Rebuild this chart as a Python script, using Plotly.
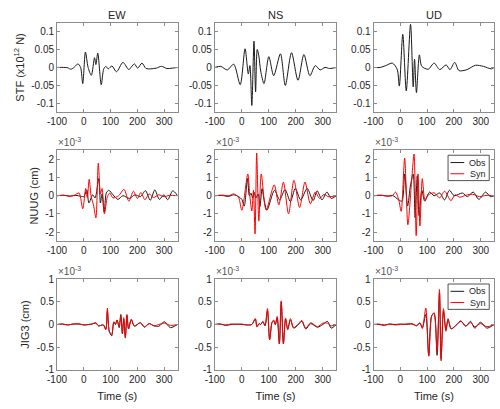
import plotly.graph_objects as go

# ---------------- data ----------------
components = ["EW", "NS", "UD"]
row_labels = ["STF (x10<sup>12</sup> N)", "NUUG (cm)", "JIG3 (cm)"]
series_names = ["Obs", "Syn"]
time_ticks = [-100, 0, 100, 200, 300]
stf_ticks = [-0.1, -0.05, 0, 0.05, 0.1]
stf_tick_text = ["-0.1", "-0.05", "0", "0.05", "0.1"]
nuug_ticks = [-2, -1, 0, 1, 2]
nuug_tick_text = ["-2", "-1", "0", "1", "2"]
jig3_ticks = [-1, -0.5, 0, 0.5, 1]
jig3_tick_text = ["-1", "-0.5", "0", "0.5", "1"]

# STF (x10^12 N)
stf_ew_t = [-100, -75, -60, -48, -35, -22, -12, -4, 6, 16, 28, 40, 45, 52, 65, 74, 82, 91, 105, 122,
            146, 168, 178, 189, 201, 217, 232, 250, 270, 290, 310, 330, 350]
stf_ew_v = [0.0, 0.0, -0.001, -0.005, 0.001, 0.01, 0.0, -0.045, 0.043, 0.0, -0.022, 0.027, 0.008, 0.04,
            -0.048, -0.005, 0.003, -0.004, 0.004, -0.012, 0.014, -0.006, 0.002, 0.01, -0.002, 0.012,
            -0.003, -0.004, -0.002, 0.003, -0.003, -0.002, 0.0]
stf_ns_t = [-100, -78, -54, -30, -6, 12, 24, 30, 37, 45, 51, 57, 63, 70, 82, 100, 118, 143, 161, 184,
            208, 230, 252, 272, 290, 308, 325, 350]
stf_ns_v = [0.0, 0.003, -0.007, 0.009, -0.048, 0.052, -0.018, 0.005, -0.106, 0.073, -0.068, 0.05, 0.032,
            -0.01, -0.045, 0.03, -0.023, 0.038, -0.05, 0.041, -0.036, 0.036, -0.023, 0.005, -0.007, 0.0,
            -0.003, 0.0]
stf_ud_t = [-100, -75, -55, -30, -12, -4, 9, 22, 38, 48, 53, 60, 71, 80, 104, 126, 147, 171, 185, 203,
            219, 249, 280, 310, 340, 350]
stf_ud_v = [0.0, 0.0, 0.005, 0.012, -0.005, -0.052, 0.092, -0.065, 0.12, -0.054, 0.023, -0.07, 0.035,
            0.003, -0.005, 0.012, -0.006, 0.007, -0.006, 0.014, -0.009, -0.006, 0.006, 0.003, -0.004, 0.0]

# NUUG (x10^-3 cm)
nuug_ew_obs_t = [-100, -75, -50, -30, -12, 0, 11, 19, 33, 42, 56, 62, 68, 76, 84, 93, 109, 127, 146, 170,
                 191, 211, 230, 248, 265, 282, 299, 313, 332, 350]
nuug_ew_obs_v = [0.0, 0.02, -0.02, 0.02, -0.03, -0.05, 0.32, -0.4, 0.05, -0.12, 0.95, -0.4, 0.1, -0.9,
                 0.15, 0.3, 0.05, -0.2, 0.0, -0.15, 0.05, -0.05, 0.28, -0.25, 0.32, -0.2, 0.05, -0.22,
                 0.27, 0.0]
nuug_ew_syn_t = [-100, -75, -55, -35, -18, -4, 7, 13, 20, 28, 36, 45, 54, 62, 68, 77, 88, 97, 109, 130,
                 150, 168, 185, 200, 213, 228, 244, 260, 280, 300, 320, 350]
nuug_ew_syn_v = [0.0, 0.03, -0.03, 0.03, 0.15, -0.72, 0.4, -0.1, 0.9, -0.1, -0.5, -1.22, 1.8, 0.1, 0.4,
                 -1.0, -0.05, 0.15, -0.12, 0.0, 0.35, -0.3, 0.25, -0.15, 0.18, -0.22, 0.1, -0.1, 0.05,
                 -0.05, 0.02, 0.0]
nuug_ns_obs_t = [-100, -75, -50, -30, -12, 0, 9, 21, 28, 34, 40, 46, 52, 61, 67, 75, 82, 93, 121, 140,
                 160, 180, 198, 218, 242, 264, 279, 297, 315, 331, 350]
nuug_ns_obs_v = [0.0, 0.02, -0.04, 0.05, -0.05, -0.2, -0.57, 0.95, 0.0, 0.14, -0.12, 0.18, -0.12, 0.1,
                 -0.6, 0.4, -0.2, -0.8, 0.3, -0.23, 0.34, -0.32, 0.4, -0.23, 0.4, -0.27, 0.27, -0.23,
                 0.2, -0.15, 0.0]
nuug_ns_syn_t = [-100, -70, -48, -30, -12, 0, 22, 29, 37, 43, 49, 55, 63, 72, 90, 120, 137, 154, 173, 193,
                 214, 234, 254, 272, 288, 305, 320, 350]
nuug_ns_syn_v = [0.0, 0.03, 0.0, 0.1, -0.1, -0.8, 1.2, 0.1, -0.84, 0.3, -2.1, 2.35, -1.4, 1.2, -0.78,
                 0.6, -0.5, 0.75, -1.0, 0.85, -0.65, 0.75, -0.45, 0.2, -0.15, 0.08, -0.05, 0.0]
nuug_ud_obs_t = [-100, -70, -45, -30, -6, 6, 16, 27, 38, 48, 55, 63, 70, 80, 91, 109, 126, 147, 165, 183,
                 201, 232, 250, 272, 293, 318, 336, 350]
nuug_ud_obs_v = [0.0, 0.02, -0.02, 0.02, -0.23, -0.3, 1.2, -0.57, 0.6, 1.2, -1.2, 1.1, -1.1, 0.3, -0.3,
                 0.2, 0.0, 0.15, -0.23, 0.3, 0.0, 0.15, -0.05, 0.2, -0.2, 0.2, -0.05, 0.0]
nuug_ud_syn_t = [-100, -75, -50, -30, -18, -6, 3, 16, 28, 40, 51, 59, 66, 73, 82, 92, 105, 126, 147, 165,
                 189, 204, 222, 245, 270, 295, 320, 350]
nuug_ud_syn_v = [0.0, 0.03, -0.02, 0.0, 0.2, -0.23, -0.86, 2.07, -1.6, 0.4, 2.3, -2.2, 1.2, -1.67, 0.94,
                 -0.23, 0.05, 0.16, -0.12, 0.25, -0.27, 0.05, -0.08, 0.03, 0.08, -0.05, 0.02, 0.0]

# JIG3 (x10^-3 cm)
jig3_ew_t = [-100, -80, -60, -40, -18, 0, 18, 30, 45, 55, 73, 82, 88, 95, 104, 112, 118, 124, 132, 138,
             144, 149, 155, 161, 167, 177, 189, 211, 226, 244, 262, 280, 301, 323, 350]
jig3_ew_obs = [0.0, 0.01, -0.01, 0.01, 0.01, -0.01, 0.0, 0.01, 0.03, -0.03, -0.01, -0.1, 0.3, -0.15,
               -0.25, 0.05, 0.0, 0.1, -0.07, 0.22, -0.2, 0.12, -0.28, 0.2, -0.1, 0.1, -0.04, 0.04, -0.06,
               0.02, -0.03, -0.04, 0.06, -0.07, 0.0]
jig3_ew_syn = [0.0, 0.01, -0.01, 0.01, 0.015, -0.01, 0.0, 0.01, 0.04, -0.03, -0.01, -0.12, 0.36, -0.15,
               -0.22, 0.06, 0.0, 0.1, -0.05, 0.2, -0.2, 0.15, -0.3, 0.22, -0.09, 0.12, -0.03, 0.04, -0.05,
               0.02, -0.03, 0.0, 0.03, -0.02, 0.0]
jig3_ns_t = [-100, -80, -60, -40, -20, 0, 20, 37, 50, 56, 64, 70, 78, 86, 95, 103, 112, 118, 124, 131,
             139, 146, 154, 162, 170, 180, 192, 210, 222, 237, 255, 280, 300, 317, 331, 350]
jig3_ns_obs = [0.0, 0.01, -0.02, 0.0, 0.01, 0.0, -0.01, 0.0, 0.12, -0.05, 0.02, 0.0, 0.06, -0.03, 0.3,
               -0.33, 0.05, 0.08, 0.0, 0.15, -0.43, 0.5, -0.43, 0.12, -0.1, 0.1, -0.08, 0.0, 0.07, -0.1,
               0.02, -0.06, 0.0, 0.07, -0.08, 0.0]
jig3_ns_syn = [0.0, 0.01, -0.01, 0.01, 0.0, 0.01, -0.01, 0.0, 0.13, -0.05, 0.02, 0.0, 0.07, -0.02, 0.35,
               -0.34, 0.05, 0.1, 0.0, 0.18, -0.42, 0.52, -0.42, 0.14, -0.12, 0.13, -0.07, 0.02, 0.09,
               -0.08, 0.04, -0.05, 0.03, 0.03, -0.03, 0.0]
jig3_ud_t = [-100, -80, -60, -40, -20, 0, 20, 43, 61, 73, 82, 95, 106, 117, 126, 137, 146, 152, 161, 170,
             178, 190, 211, 226, 244, 262, 278, 299, 323, 350]
jig3_ud_obs = [0.0, 0.0, -0.02, 0.01, 0.0, 0.01, 0.0, 0.01, -0.03, 0.03, -0.07, 0.22, -0.68, 0.2, 0.24,
               -0.68, 0.7, -0.75, 0.3, -0.12, 0.1, -0.1, 0.0, 0.08, -0.04, 0.07, -0.08, 0.05, -0.08, 0.0]
jig3_ud_syn = [0.0, 0.01, -0.01, 0.01, -0.01, 0.0, 0.01, 0.02, -0.02, 0.04, -0.09, 0.36, -0.7, 0.18, 0.26,
               -0.6, 0.77, -0.8, 0.35, -0.15, 0.13, -0.09, 0.0, 0.07, -0.03, 0.04, -0.05, 0.02, -0.05, 0.0]

# ---------------- figure ----------------
W, H = 500, 409
FONT = "Liberation Sans, Arial, sans-serif"
TXT = "#262626"
AXC = "#8c8c8c"
OBS_C, SYN_C = "#1a1a1a", "#ff0000"
col_px = [(48, 171), (209, 333), (371, 494)]
row_px = [(18, 110), (149, 242), (281, 374)]


def px_x(x):
    return x / W


def px_y(y):
    return 1 - y / H


def xdom(c):
    return [px_x(col_px[c][0]), px_x(col_px[c][1])]


def ydom(r):
    return [px_y(row_px[r][1]), px_y(row_px[r][0])]


stf = [(stf_ew_t, stf_ew_v), (stf_ns_t, stf_ns_v), (stf_ud_t, stf_ud_v)]
nuug = [((nuug_ew_obs_t, nuug_ew_obs_v), (nuug_ew_syn_t, nuug_ew_syn_v)),
        ((nuug_ns_obs_t, nuug_ns_obs_v), (nuug_ns_syn_t, nuug_ns_syn_v)),
        ((nuug_ud_obs_t, nuug_ud_obs_v), (nuug_ud_syn_t, nuug_ud_syn_v))]
jig3 = [((jig3_ew_t, jig3_ew_obs), (jig3_ew_t, jig3_ew_syn)),
        ((jig3_ns_t, jig3_ns_obs), (jig3_ns_t, jig3_ns_syn)),
        ((jig3_ud_t, jig3_ud_obs), (jig3_ud_t, jig3_ud_syn))]

yranges = [[-0.125, 0.125], [-2.5, 2.5], [-1, 1]]
yticks = [(stf_ticks, stf_tick_text), (nuug_ticks, nuug_tick_text), (jig3_ticks, jig3_tick_text)]

fig = go.Figure()
layout = {}
annotations = []
shapes = []

for r in range(3):
    for c in range(3):
        i = r * 3 + c + 1
        sx = "" if i == 1 else str(i)
        xa, ya = "x" + sx, "y" + sx
        if r == 0:
            t, v = stf[c]
            fig.add_trace(go.Scatter(x=t, y=v, mode="lines", xaxis=xa, yaxis=ya,
                                     line=dict(color=OBS_C, width=1, shape="spline", smoothing=0.8),
                                     showlegend=False, hoverinfo="skip"))
        else:
            pair = nuug[c] if r == 1 else jig3[c]
            for (t, v), name, col in zip(pair, series_names, [OBS_C, SYN_C]):
                fig.add_trace(go.Scatter(x=t, y=v, mode="lines", xaxis=xa, yaxis=ya, name=name,
                                         line=dict(color=col, width=1, shape="spline", smoothing=0.8),
                                         showlegend=False, hoverinfo="skip"))
        xax = dict(
            domain=xdom(c), anchor=ya, range=[-100, 350], tickvals=time_ticks,
            ticktext=[str(k) if k >= 0 else "-" + str(-k) for k in time_ticks],
            ticks="inside", ticklen=3, tickcolor=AXC, showline=True, linecolor=AXC, linewidth=1,
            mirror="ticks", showgrid=False, zeroline=False,
            tickfont=dict(family=FONT, size=10, color=TXT))
        if r == 2:
            xax["title"] = dict(text="Time (s)", font=dict(family=FONT, size=11, color=TXT), standoff=8)
        yax = dict(
            domain=ydom(r), anchor=xa, range=yranges[r], tickvals=yticks[r][0], ticktext=yticks[r][1],
            ticks="inside", ticklen=3, tickcolor=AXC, showline=True, linecolor=AXC, linewidth=1,
            mirror="ticks", showgrid=False, zeroline=False,
            tickfont=dict(family=FONT, size=10, color=TXT))
        if c == 0:
            yax["title"] = dict(text=row_labels[r], font=dict(family=FONT, size=11, color=TXT), standoff=4)
        layout["xaxis" + sx] = xax
        layout["yaxis" + sx] = yax
        if r > 0:
            annotations.append(dict(text="\u00d710<sup>-3</sup>", xref="paper", yref="paper",
                                    x=px_x(col_px[c][0]), y=px_y(row_px[r][0]), xanchor="left",
                                    yanchor="bottom", showarrow=False, xshift=-1,
                                    font=dict(family=FONT, size=10, color="#555555")))

for c in range(3):
    annotations.append(dict(text=components[c], xref="paper", yref="paper",
                            x=px_x((col_px[c][0] + col_px[c][1]) / 2), y=px_y(10),
                            xanchor="center", yanchor="middle", showarrow=False,
                            font=dict(family=FONT, size=11, color=TXT)))

# compact MATLAB-style legends in the UD panels of rows 2 and 3
for top in (154, 286):
    shapes.append(dict(type="rect", xref="paper", yref="paper",
                       x0=px_x(447), x1=px_x(489), y0=px_y(top + 26), y1=px_y(top),
                       line=dict(color=TXT, width=0.8), fillcolor="white", layer="above"))
    for k, (name, col) in enumerate(zip(series_names, [OBS_C, SYN_C])):
        yc = top + 7.5 + 11.5 * k
        shapes.append(dict(type="line", xref="paper", yref="paper",
                           x0=px_x(449.5), x1=px_x(463.5), y0=px_y(yc), y1=px_y(yc),
                           line=dict(color=col, width=1), layer="above"))
        annotations.append(dict(text=name, xref="paper", yref="paper", x=px_x(487), y=px_y(yc),
                                xanchor="right", yanchor="middle", showarrow=False, borderpad=0,
                                font=dict(family=FONT, size=9, color=TXT)))

fig.update_layout(
    width=W, height=H, margin=dict(l=0, r=0, t=0, b=0),
    paper_bgcolor="white", plot_bgcolor="white",
    font=dict(family=FONT, size=10, color=TXT),
    showlegend=False,
    annotations=annotations, shapes=shapes,
    **layout)

fig.write_html("out.html")
